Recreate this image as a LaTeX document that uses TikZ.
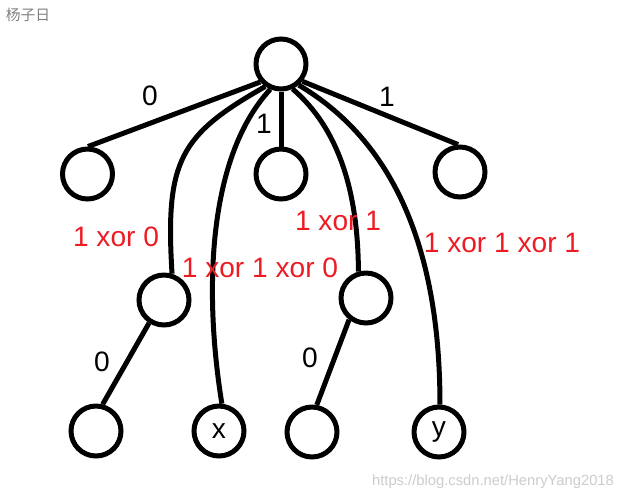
\documentclass[tikz,border=0pt]{standalone}
\usepackage{fontspec}
\setmainfont{Liberation Sans}
\newfontfamily\cjkfont{Noto Sans CJK SC}
\usetikzlibrary{positioning}
\definecolor{xorred}{RGB}{237,28,36}

\begin{document}
\begin{tikzpicture}[x=0.02cm, y=-0.02cm,
    vertex/.style={draw, circle, line width=0.1cm, minimum size=1cm, inner sep=0pt, font=\fontsize{16}{19}\selectfont},
    edge/.style={line width=0.1cm},
    bitlabel/.style={font=\fontsize{16}{19}\selectfont, inner sep=0pt},
    xorlabel/.style={font=\fontsize{16}{19}\selectfont, text=xorred, inner sep=0pt},
    marklabel/.style={font=\fontsize{8.4}{10}\selectfont, inner sep=0pt}
]
    \useasboundingbox (0,0) rectangle (621,501);

    % Trie nodes
    \node[vertex] (root) at (281,64) {};
    \node[vertex] (n0) at (87.5,174) {};
    \node[vertex] (n1) at (281,174) {};
    \node[vertex] (n2) at (460,172) {};
    \node[vertex] (m0) at (164,300) {};
    \node[vertex] (m1) at (366,298) {};
    \node[vertex] (b0) at (96,431) {};
    \node[vertex] (bx) at (219,431) {x};
    \node[vertex] (b1) at (312,432) {};
    \node[vertex] (by) at (439,432) {y};

    % Trie edges
    \draw[edge] (root.221) -- (n0.89);
    \draw[edge] (root) -- (n1);
    \draw[edge] (root.321) -- (n2.94);
    \draw[edge] (m0.237) -- (b0.76);
    \draw[edge] (m1.232) -- (b1.80);

    % Xor paths
    \draw[edge] (root.235) .. controls (180,135) and (165,160) .. (m0.73);
    \draw[edge] (root.247) .. controls (205,160) and (205,300) .. (bx.84);
    \draw[edge] (root.295) .. controls (338,128) and (358,190) .. (m1.106);
    \draw[edge] (root.310) .. controls (400,145) and (440,260) .. (by.88);

    % Edge labels
    \node[bitlabel] (l0) at (150,96) {0};
    \node[bitlabel] (l1) at (264,124) {1};
    \node[bitlabel] (l2) at (387,97) {1};
    \node[bitlabel] (l3) at (102,362) {0};
    \node[bitlabel] (l4) at (310,358) {0};

    % Xor values
    \node[xorlabel] (x0) at (116,237) {1 xor 0};
    \node[xorlabel] (x1) at (260,268) {1 xor 1 xor 0};
    \node[xorlabel] (x2) at (338,221) {1 xor 1};
    \node[xorlabel] (x3) at (502,243) {1 xor 1 xor 1};

    % Marks
    \node[marklabel, text=black!50] (name) at (28,15) {\cjkfont 杨子日};
    \node[marklabel, text=black!20] (url) at (493,482) {https://blog.csdn.net/HenryYang2018};
\end{tikzpicture}
\end{document}
